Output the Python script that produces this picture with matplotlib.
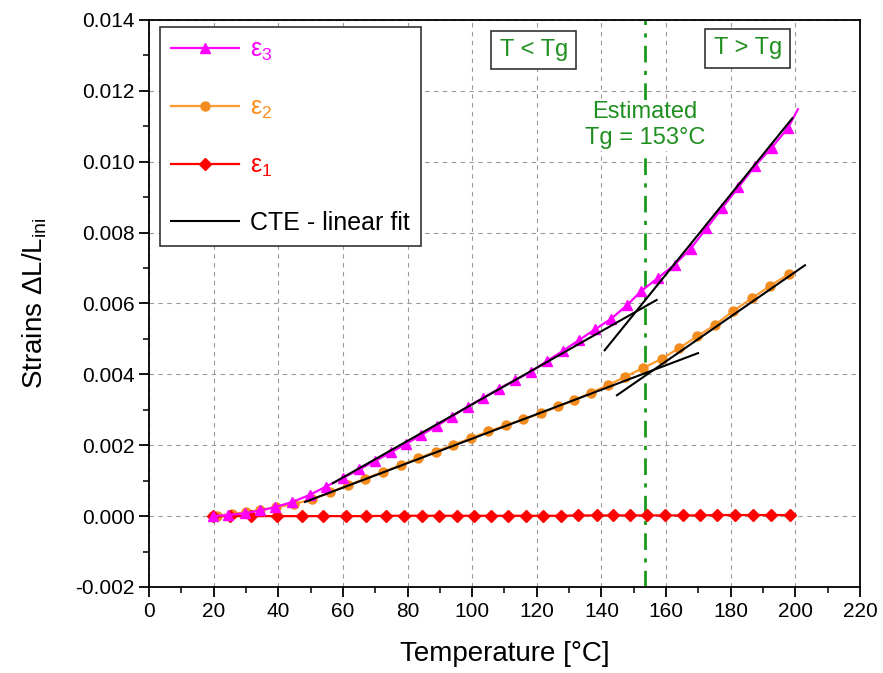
import numpy as np
import matplotlib
matplotlib.use("Agg")
import matplotlib.pyplot as plt
from matplotlib.ticker import MultipleLocator, FormatStrFormatter

plt.rcParams['font.family'] = ['Liberation Sans', 'DejaVu Sans']
plt.rcParams['mathtext.fontset'] = 'custom'
plt.rcParams['mathtext.rm'] = 'Liberation Sans'
plt.rcParams['mathtext.it'] = 'Liberation Sans'
plt.rcParams['axes.unicode_minus'] = False

# epsilon 3 (magenta, triangles)
t_e3 = [19.7, 24.4, 29.6, 34.5, 38.9, 44.4, 49.8, 54.7, 60.1, 65.1, 70.0, 74.9,
        79.4, 84.3, 89.2, 93.7, 98.6, 103.5, 108.4, 113.4, 118.3, 123.2, 128.2,
        133.1, 138.0, 142.9, 147.9, 152.3, 157.5, 162.7, 167.6, 172.5, 177.4,
        182.4, 187.5, 192.7, 197.7, 200.8]
e3 = [0.0, 0.00003, 0.00008, 0.00016, 0.00025, 0.00040, 0.00060, 0.00083, 0.00108,
      0.00132, 0.00156, 0.00180, 0.00203, 0.00229, 0.00255, 0.00281, 0.00309,
      0.00334, 0.00360, 0.00384, 0.00408, 0.00438, 0.00467, 0.00497, 0.00527,
      0.00556, 0.00595, 0.00635, 0.00672, 0.00710, 0.00755, 0.00812, 0.00870,
      0.00928, 0.00988, 0.01040, 0.01095, 0.01148]

# epsilon 2 (orange, circles)
t_e2 = [19.7, 21.2, 25.6, 30.1, 34.3, 39.4, 44.9, 50.3, 56.0, 61.6, 67.0, 72.5,
        77.9, 83.3, 88.7, 94.1, 99.6, 105.0, 110.4, 115.8, 121.3, 126.7, 131.6,
        136.7, 142.1, 147.3, 152.9, 158.7, 164.0, 169.6, 175.2, 180.7, 186.6,
        192.1, 198.0]
e2 = [0.0, 0.00001, 0.00006, 0.00011, 0.00017, 0.00025, 0.00034, 0.00047, 0.00067,
      0.00087, 0.00106, 0.00125, 0.00144, 0.00163, 0.00182, 0.00201, 0.00220,
      0.00239, 0.00256, 0.00273, 0.00290, 0.00310, 0.00327, 0.00348, 0.00370,
      0.00393, 0.00418, 0.00444, 0.00474, 0.00507, 0.00540, 0.00578, 0.00615,
      0.00649, 0.00683]

# epsilon 1 (red, diamonds)
t_e1 = [19.9, 25.0, 31.7, 39.5, 47.2, 53.9, 61.1, 67.3, 73.5, 78.9, 84.4, 89.9,
        95.4, 100.6, 105.7, 111.2, 116.7, 122.0, 127.5, 132.9, 138.6, 143.6,
        148.9, 154.0, 159.7, 165.1, 170.4, 175.9, 181.3, 187.0, 192.6, 198.3]
e1 = [0.0, 0.0, 0.0, 0.0, 0.0, 0.0, 0.0, 0.0, 0.00001, 0.00001, 0.00001, 0.00001,
      0.00001, 0.00001, 0.00001, 0.00001, 0.00001, 0.00001, 0.00001, 0.00002,
      0.00002, 0.00002, 0.00002, 0.00002, 0.00002, 0.00002, 0.00002, 0.00003,
      0.00003, 0.00003, 0.00003, 0.00003]

# CTE linear fits: (T start, T end), (strain start, strain end)
fit_t = [(56.9, 157.1), (141.0, 199.1), (48.3, 169.9), (144.8, 203.0)]
fit_s = [(0.00093, 0.00610), (0.00468, 0.01123), (0.00040, 0.00460), (0.00341, 0.00708)]

tg = 153.6

fig = plt.figure(figsize=(8.83, 6.73), dpi=100)
ax = fig.add_axes([0.1687, 0.1278, 0.8052, 0.8425])

green = '#1f8f1f'
ax.axvline(tg, color='#1a9a1a', lw=2, ls=(0, (6, 3, 1.5, 3)), zorder=2)

l3, = ax.plot(t_e3, e3, color='#ff00ff', lw=1.6, marker='^', ms=7,
              markevery=list(range(len(t_e3) - 1)), label='ε$_3$', zorder=4)
l2, = ax.plot(t_e2, e2, color='#ff9a2e', lw=1.6, marker='o', ms=6.5,
              mfc='#f28c1e', mec='#f28c1e', label='ε$_2$', zorder=3)
l1, = ax.plot(t_e1, e1, color='#ff0000', lw=1.6, marker='D', ms=6,
              label='ε$_1$', zorder=3)
fits = []
for tt, ss in zip(fit_t, fit_s):
    lf, = ax.plot(tt, ss, color='black', lw=1.5, zorder=5)
    fits.append(lf)
fits[0].set_label('CTE - linear fit')

ax.set_xlim(0, 220)
ax.set_ylim(-0.002, 0.014)
ax.xaxis.set_major_locator(MultipleLocator(20))
ax.xaxis.set_minor_locator(MultipleLocator(10))
ax.yaxis.set_major_locator(MultipleLocator(0.002))
ax.yaxis.set_minor_locator(MultipleLocator(0.001))
ax.yaxis.set_major_formatter(FormatStrFormatter('%.3f'))
ax.tick_params(which='major', direction='out', length=7, width=1.3, labelsize=15)
ax.tick_params(which='minor', direction='out', length=4, width=1.1)
for s in ax.spines.values():
    s.set_linewidth(1.3)
ax.grid(True, which='major', ls=(0, (4, 4)), color='#9a9a9a', lw=0.8)

ax.set_xlabel('Temperature [°C]', fontsize=20, labelpad=15)
ax.set_ylabel('Strains ΔL/L$_{\\mathrm{ini}}$', fontsize=20, labelpad=19)

leg = ax.legend(handles=[l3, l2, l1, fits[0]], loc='upper left', fontsize=18,
                fancybox=False, edgecolor='#333333', framealpha=1,
                labelspacing=1.3, handlelength=2.7, handletextpad=0.45,
                borderpad=0.45, borderaxespad=0,
                bbox_to_anchor=(0.0155, 0.988))
leg.get_frame().set_linewidth(1.2)
for txt, c in zip(leg.get_texts(), ['#ff00ff', '#ff8c1a', '#ff0000', 'black']):
    txt.set_color(c)

box = dict(boxstyle='square,pad=0.35', fc='white', ec='#333333', lw=1.2)
ax.text(119.1, 0.01315, 'T < Tg', color=green, fontsize=17, ha='center',
        va='center', bbox=box)
ax.text(185.3, 0.01320, 'T > Tg', color=green, fontsize=17, ha='center',
        va='center', bbox=box)
ax.text(153.5, 0.01103, 'Estimated\nTg = 153°C', color=green, fontsize=17,
        ha='center', va='center', linespacing=1.25,
        bbox=dict(fc='white', ec='none', pad=1))

fig.savefig('out.png', dpi=100)
